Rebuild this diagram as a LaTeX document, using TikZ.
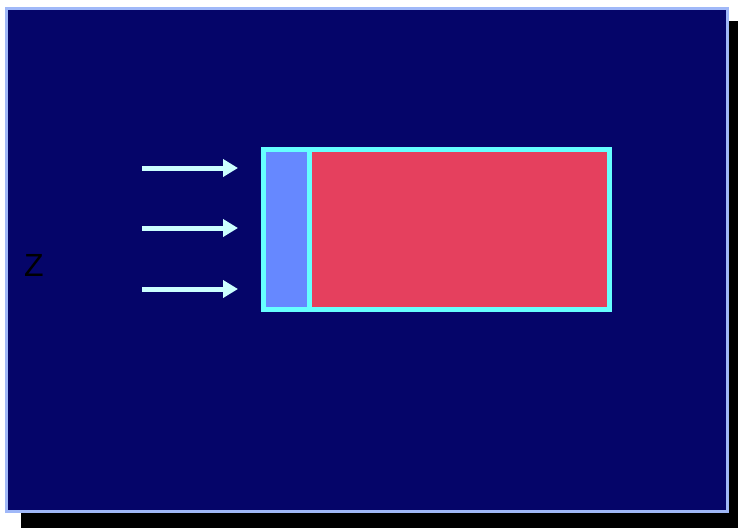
\documentclass[tikz,border=0pt]{standalone}
\usepackage{fontspec}
\setmainfont{Liberation Sans}
\definecolor{navy}{HTML}{050569}
\definecolor{frameblue}{HTML}{A0B8F8}
\definecolor{edgecyan}{HTML}{66FFFF}
\definecolor{arrowcyan}{HTML}{CCFFFF}
\definecolor{coolblue}{HTML}{6688FF}
\definecolor{warmred}{HTML}{E5405E}
\usetikzlibrary{arrows.meta}
\tikzset{
  px/.style={x=1pt,y=-1pt},
  flowarrow/.style={draw=arrowcyan,line width=5pt,
    -{Triangle[width=17pt,length=15pt]},fill=arrowcyan},
  cell/.style={draw=edgecyan,line width=5pt},
}
\begin{document}
\begin{tikzpicture}[px]
  \useasboundingbox (0,0) rectangle (738,528);
  \fill[white] (0,0) rectangle (738,528);
  % drop shadow
  \fill[black] (21,21) rectangle (738,528);
  % panel
  \fill[navy] (5,7) rectangle (729,513);
  \draw[frameblue,line width=3pt] (6.5,8.5) rectangle (727.5,511.5);
  % label
  \node[font=\fontsize{32}{32}\selectfont,text=black] (z) at (34,265) {Z};
  % incoming flow
  \coordinate (a1) at (142,168); \coordinate (b1) at (238,168);
  \coordinate (a2) at (142,228); \coordinate (b2) at (238,228);
  \coordinate (a3) at (142,289); \coordinate (b3) at (238,289);
  \draw[flowarrow] (a1) -- (b1);
  \draw[flowarrow] (a2) -- (b2);
  \draw[flowarrow] (a3) -- (b3);
  % two-layer slab
  \fill[coolblue] (263,149) rectangle (309,309);
  \fill[warmred] (309,149) rectangle (609,309);
  \draw[cell] (263,149) rectangle (609,309);
  \draw[cell] (309,149) -- (309,309);
\end{tikzpicture}
\end{document}
